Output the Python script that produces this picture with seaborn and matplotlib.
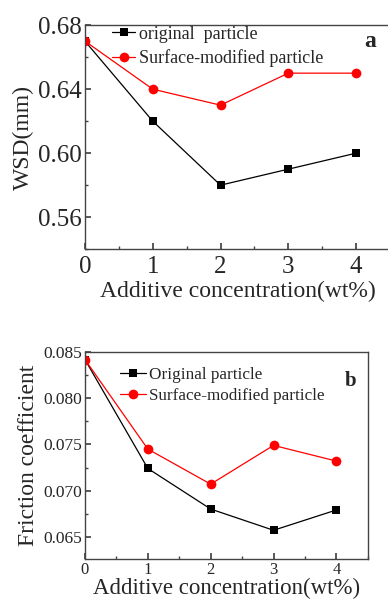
import numpy as np
import pandas as pd
import matplotlib
matplotlib.use("Agg")
import matplotlib.pyplot as plt
import seaborn as sns
from matplotlib.ticker import MultipleLocator

sns.set_theme(style="ticks")
plt.rcParams['font.family'] = ['Liberation Serif', 'DejaVu Serif']
plt.rcParams['mathtext.fontset'] = 'stix'

conc = [0, 1, 2, 3, 4]
wsd_original = [0.67, 0.62, 0.58, 0.59, 0.60]
wsd_modified = [0.67, 0.64, 0.63, 0.65, 0.65]
fc_original = [0.0842, 0.0724, 0.0680, 0.0657, 0.0679]
fc_modified = [0.0842, 0.0745, 0.0707, 0.0749, 0.0732]

xlabel = "Additive concentration(wt%)"

fig = plt.figure(figsize=(3.88, 5.99), dpi=100)
ax1 = fig.add_axes([0.219, 0.584, 0.786, 0.374])
ax2 = fig.add_axes([0.219, 0.067, 0.729, 0.345])

def draw(ax, orig, mod, lab_o, lab_m, msize):
    df = pd.DataFrame({"x": conc + conc,
                       "y": orig + mod,
                       "s": [lab_o] * len(conc) + [lab_m] * len(conc)})
    sns.lineplot(data=df[df.s == lab_o], x="x", y="y", ax=ax, color="black",
                 marker="s", markersize=msize, markeredgewidth=0, linewidth=0.9,
                 label=lab_o)
    sns.lineplot(data=df[df.s == lab_m], x="x", y="y", ax=ax, color="#ff0000",
                 marker="o", markersize=msize + 1, markeredgewidth=0, linewidth=0.9,
                 label=lab_m)

draw(ax1, wsd_original, wsd_modified, "original  particle", "Surface-modified particle", 6)
draw(ax2, fc_original, fc_modified, "Original particle", "Surface-modified particle", 6)

for ax in (ax1, ax2):
    for sp in ax.spines.values():
        sp.set_visible(True)
        sp.set_color("#444444")
        sp.set_linewidth(1.0)
    ax.tick_params(which="both", direction="in", top=False, right=False, color="#444444")
    ax.tick_params(which="major", length=4)
    ax.tick_params(which="minor", length=2.5)
    ax.xaxis.set_major_locator(MultipleLocator(1))
    ax.xaxis.set_minor_locator(MultipleLocator(0.5))

ax1.set_xlim(0, 4.5)
ax1.set_ylim(0.54, 0.68)
ax1.set_yticks([0.56, 0.60, 0.64, 0.68])
ax1.set_yticklabels(["0.56", "0.60", "0.64", "0.68"])
ax1.yaxis.set_minor_locator(MultipleLocator(0.02))
ax1.tick_params(axis="both", which="major", labelsize=18, pad=2)
ax1.tick_params(axis="x", which="major", pad=5)
ax1.set_xlabel(xlabel, fontsize=17, labelpad=2)
ax1.set_ylabel("WSD(mm)", fontsize=17, labelpad=3)
ax1.legend(loc="upper left", bbox_to_anchor=(0.065, 1.03), frameon=False, fontsize=13,
           handlelength=1.3, handletextpad=0.2, labelspacing=0.35, borderaxespad=0)
ax1.text(0.955, 0.925, "a", transform=ax1.transAxes, fontsize=17, fontweight="bold",
         ha="right", va="center")

ax2.set_xlim(0, 4.5)
ax2.set_ylim(0.0626, 0.085)
ax2.set_yticks([0.065, 0.070, 0.075, 0.080, 0.085])
ax2.set_yticklabels(["0.065", "0.070", "0.075", "0.080", "0.085"])
ax2.yaxis.set_minor_locator(MultipleLocator(0.0025))
ax2.tick_params(axis="both", which="major", labelsize=12.5, pad=2)
ax2.tick_params(axis="x", which="major", labelsize=12, pad=2)
ax2.set_xlabel(xlabel, fontsize=16.5, labelpad=0)
ax2.set_ylabel("Friction coefficient", fontsize=17, labelpad=3)
ax2.legend(loc="upper left", bbox_to_anchor=(0.10, 0.96), frameon=False, fontsize=12.3,
           handlelength=1.5, handletextpad=0.2, labelspacing=0.25, borderaxespad=0)
ax2.text(0.96, 0.86, "b", transform=ax2.transAxes, fontsize=15, fontweight="bold",
         ha="right", va="center")

fig.savefig("out.png", dpi=100)
